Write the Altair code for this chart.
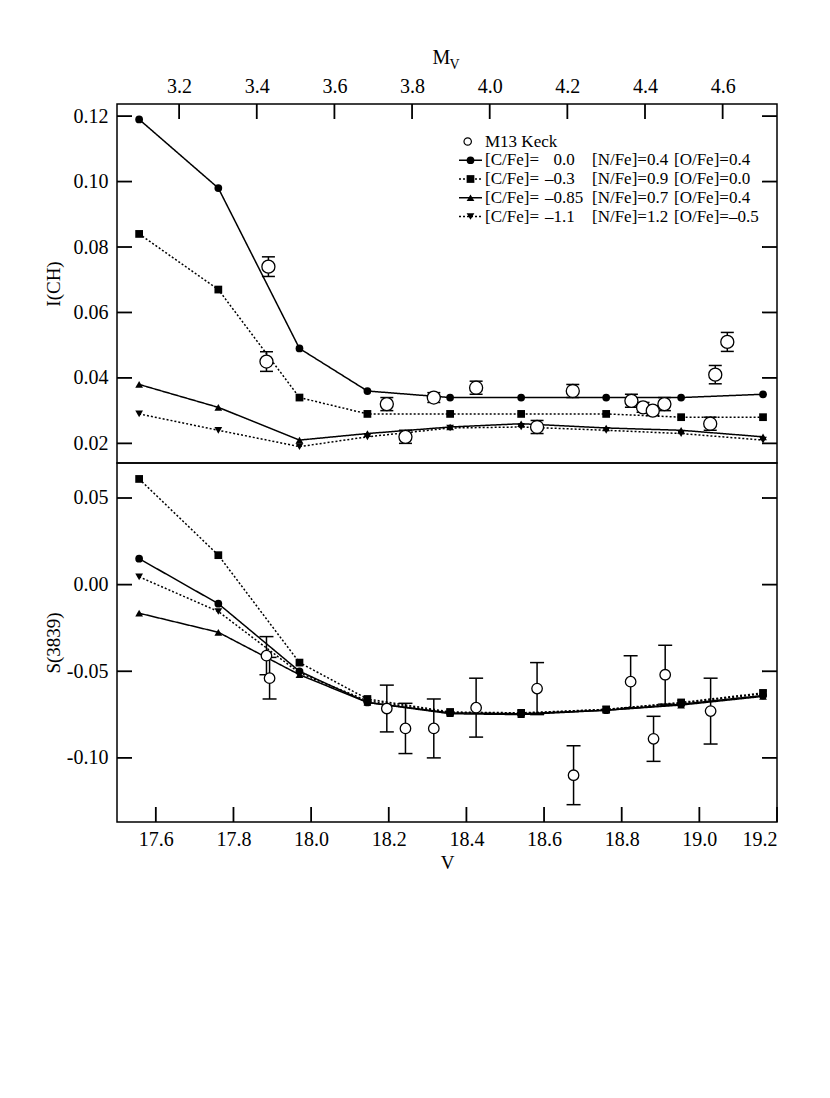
import altair as alt
import pandas as pd

FONT = "Liberation Serif"
W, H = 660, 359
TL = 15  # inward tick length (px)

# ---------------- data ----------------
series = ["c00", "c03", "c085", "c11"]
shapes = ["circle", "square", "triangle-up", "triangle-down"]
dashes = [[1, 0], [2, 2], [1, 0], [2, 2]]

model_V = [17.557, 17.761, 17.970, 18.145, 18.358, 18.541, 18.760, 18.953, 19.164]

ich_c00 = [0.119, 0.098, 0.049, 0.036, 0.034, 0.034, 0.034, 0.034, 0.035]
ich_c03 = [0.084, 0.067, 0.034, 0.029, 0.029, 0.029, 0.029, 0.028, 0.028]
ich_c085 = [0.038, 0.031, 0.021, 0.023, 0.025, 0.026, 0.0247, 0.024, 0.022]
ich_c11 = [0.029, 0.024, 0.019, 0.022, 0.0247, 0.025, 0.024, 0.023, 0.021]

s_c00 = [0.015, -0.011, -0.050, -0.068, -0.074, -0.0745, -0.0725, -0.069, -0.064]
s_c03 = [0.061, 0.017, -0.045, -0.066, -0.0735, -0.074, -0.072, -0.068, -0.0625]
s_c085 = [-0.0165, -0.0275, -0.052, -0.068, -0.0745, -0.075, -0.0725, -0.0695, -0.0645]
s_c11 = [0.0045, -0.0155, -0.051, -0.067, -0.074, -0.0745, -0.072, -0.0685, -0.063]

obs_top_V = [17.885, 17.890, 18.195, 18.243, 18.316, 18.425, 18.582, 18.674,
             18.825, 18.855, 18.880, 18.910, 19.028, 19.041, 19.072]
obs_top_I = [0.045, 0.074, 0.032, 0.022, 0.034, 0.037, 0.025, 0.036,
             0.033, 0.031, 0.030, 0.032, 0.026, 0.041, 0.051]
obs_top_err = [0.003, 0.003, 0.002, 0.002, 0.0015, 0.002, 0.002, 0.002,
               0.002, 0.0015, 0.0015, 0.002, 0.002, 0.0028, 0.0029]

obs_bot_V = [17.885, 17.893, 18.195, 18.243, 18.316, 18.425, 18.582, 18.676,
             18.823, 18.882, 18.912, 19.029]
obs_bot_S = [-0.041, -0.054, -0.0715, -0.083, -0.083, -0.071, -0.060, -0.110,
             -0.056, -0.089, -0.052, -0.073]
obs_bot_err = [0.011, 0.012, 0.0135, 0.0145, 0.017, 0.017, 0.015, 0.017,
               0.015, 0.013, 0.017, 0.019]

DIST_MOD = 14.46
mv_ticks = [3.2, 3.4, 3.6, 3.8, 4.0, 4.2, 4.4, 4.6]
v_ticks = [17.6, 17.8, 18.0, 18.2, 18.4, 18.6, 18.8, 19.0, 19.2]
ich_ticks = [0.02, 0.04, 0.06, 0.08, 0.10, 0.12]
s_ticks = [-0.10, -0.05, 0.00, 0.05]

leg_val_int = ["0", "\u20130", "\u20130", "\u20131"]
leg_val_frac = [".0", ".3", ".85", ".1"]
leg_n = ["[N/Fe]=0.4", "[N/Fe]=0.9", "[N/Fe]=0.7", "[N/Fe]=1.2"]
leg_o = ["[O/Fe]=0.4", "[O/Fe]=0.0", "[O/Fe]=0.4", "[O/Fe]=\u20130.5"]

XDOM = [17.5, 19.2]
YDOM_TOP = [0.014, 0.1237]
YDOM_BOT = [-0.137, 0.0702]

# ---------------- tables ----------------
def models_long(vals):
    rows = []
    for s, arr in zip(series, vals):
        for v, y in zip(model_V, arr):
            rows.append({"V": v, "y": y, "series": s})
    return pd.DataFrame(rows)

top_models = models_long([ich_c00, ich_c03, ich_c085, ich_c11])
bot_models = models_long([s_c00, s_c03, s_c085, s_c11])

top_obs = pd.DataFrame({"V": obs_top_V, "y": obs_top_I, "e": obs_top_err})
top_obs["lo"] = top_obs["y"] - top_obs["e"]
top_obs["hi"] = top_obs["y"] + top_obs["e"]
bot_obs = pd.DataFrame({"V": obs_bot_V, "y": obs_bot_S, "e": obs_bot_err})
bot_obs["lo"] = bot_obs["y"] - bot_obs["e"]
bot_obs["hi"] = bot_obs["y"] + bot_obs["e"]

legend_df = pd.DataFrame({
    "series": series, "row": [1, 2, 3, 4],
    "vint": leg_val_int, "vfrac": leg_val_frac, "n": leg_n, "o": leg_o,
})

shape_scale = alt.Scale(domain=series, range=shapes)
dash_scale = alt.Scale(domain=series, range=dashes)

# ---------------- encodings ----------------
def x_top(field="V"):
    return alt.X(f"{field}:Q", scale=alt.Scale(domain=XDOM, nice=False, zero=False),
                 axis=alt.Axis(orient="top", values=[m + DIST_MOD for m in mv_ticks],
                               labelExpr=f"format(datum.value - {DIST_MOD}, '.1f')",
                               title=None, grid=False, ticks=False, domain=False,
                               labelPadding=8))

def x_bot(field="V"):
    return alt.X(f"{field}:Q", scale=alt.Scale(domain=XDOM, nice=False, zero=False),
                 axis=alt.Axis(orient="bottom", values=v_ticks, format=".1f",
                               title="V", grid=False, ticks=False, domain=False,
                               labelPadding=7, titlePadding=4))

def y_top(field="y"):
    return alt.Y(f"{field}:Q", title="I(CH)",
                 scale=alt.Scale(domain=YDOM_TOP, nice=False, zero=False),
                 axis=alt.Axis(values=ich_ticks, format=".2f", grid=False, ticks=False,
                               domain=False, labelPadding=9, minExtent=50, maxExtent=50,
                               titlePadding=4))

def y_bot(field="y"):
    return alt.Y(f"{field}:Q", title="S(3839)",
                 scale=alt.Scale(domain=YDOM_BOT, nice=False, zero=False),
                 axis=alt.Axis(values=s_ticks,
                               labelExpr="replace(format(datum.value, '.2f'), '\u2212', '-')",
                               grid=False, ticks=False, domain=False, labelPadding=9,
                               minExtent=50, maxExtent=50, titlePadding=4))


def panel(models, obs, xf, yf, circ_size, cap_size):
    lines = alt.Chart(models).mark_line(color="black", strokeWidth=1.5).encode(
        x=xf(), y=yf(), detail="series:N",
        strokeDash=alt.StrokeDash("series:N", scale=dash_scale, legend=None))
    pts = alt.Chart(models).mark_point(filled=True, color="black", opacity=1, size=60).encode(
        x=xf(), y=yf(), shape=alt.Shape("series:N", scale=shape_scale, legend=None))
    bars = alt.Chart(obs).mark_rule(color="black", strokeWidth=1.5).encode(
        x=xf(), y=yf("lo"), y2="hi:Q")
    cap_lo = alt.Chart(obs).mark_tick(color="black", thickness=1.5, size=cap_size,
                                      orient="horizontal", opacity=1).encode(x=xf(), y=yf("lo"))
    cap_hi = alt.Chart(obs).mark_tick(color="black", thickness=1.5, size=cap_size,
                                      orient="horizontal", opacity=1).encode(x=xf(), y=yf("hi"))
    circ = alt.Chart(obs).mark_point(shape="circle", filled=True, fill="white", stroke="black",
                                     strokeWidth=1.3, opacity=1, size=circ_size).encode(
        x=xf(), y=yf())
    return [lines, pts, bars, cap_lo, cap_hi, circ]


def inward_ticks(xf, yf, xvals, yvals, ydom, x_at_top):
    """Inward-pointing tick marks drawn through the panel's own scales."""
    dx = (XDOM[1] - XDOM[0]) * TL / W
    dy = (ydom[1] - ydom[0]) * TL / H
    if x_at_top:
        y0, y1 = ydom[1], ydom[1] - dy
    else:
        y0, y1 = ydom[0], ydom[0] + dy
    xdf = pd.DataFrame({"t": xvals, "a": y0, "b": y1})
    ydf = pd.DataFrame({"t": yvals, "l0": XDOM[0], "l1": XDOM[0] + dx,
                        "r0": XDOM[1] - dx, "r1": XDOM[1]})
    xt = alt.Chart(xdf).mark_rule(color="black", strokeWidth=1.8).encode(
        x=xf("t"), y=yf("a"), y2="b:Q")
    yl = alt.Chart(ydf).mark_rule(color="black", strokeWidth=1.8).encode(
        y=yf("t"), x=xf("l0"), x2="l1:Q")
    yr = alt.Chart(ydf).mark_rule(color="black", strokeWidth=1.8).encode(
        y=yf("t"), x=xf("r0"), x2="r1:Q")
    return [xt, yl, yr]


# ---------------- legend (top panel) ----------------
LX0, LY0, LDY = 342, 37.5, 18.75
leg_base = alt.Chart(legend_df).transform_calculate(ly=f"{LY0} + {LDY} * datum.row")
leg_solid = leg_base.transform_filter("datum.row % 2 == 1").mark_rule(
    color="black", strokeWidth=1.5).encode(
    x=alt.value(LX0), x2=alt.value(LX0 + 23), y=alt.Y("ly:Q", scale=None))
leg_dot = leg_base.transform_filter("datum.row % 2 == 0").mark_rule(
    color="black", strokeWidth=1.5, strokeDash=[2, 2]).encode(
    x=alt.value(LX0), x2=alt.value(LX0 + 23), y=alt.Y("ly:Q", scale=None))
leg_sym = leg_base.mark_point(filled=True, color="black", opacity=1, size=60).encode(
    x=alt.value(LX0 + 11.5), y=alt.Y("ly:Q", scale=None),
    shape=alt.Shape("series:N", scale=shape_scale, legend=None))
txt_kw = dict(font=FONT, fontSize=17, color="black", baseline="middle")
leg_c = leg_base.mark_text(align="left", text="[C/Fe]=", **txt_kw).encode(
    x=alt.value(368), y=alt.Y("ly:Q", scale=None))
leg_int = leg_base.mark_text(align="right", **txt_kw).encode(
    x=alt.value(445), y=alt.Y("ly:Q", scale=None), text="vint:N")
leg_frac = leg_base.mark_text(align="left", **txt_kw).encode(
    x=alt.value(445), y=alt.Y("ly:Q", scale=None), text="vfrac:N")
leg_n_t = leg_base.mark_text(align="left", **txt_kw).encode(
    x=alt.value(475), y=alt.Y("ly:Q", scale=None), text="n:N")
leg_o_t = leg_base.mark_text(align="left", **txt_kw).encode(
    x=alt.value(557), y=alt.Y("ly:Q", scale=None), text="o:N")

keck_df = pd.DataFrame({"label": ["M13 Keck"]})
keck_sym = alt.Chart(keck_df).mark_point(shape="circle", filled=True, fill="white",
                                        stroke="black", strokeWidth=1.2, opacity=1,
                                        size=55).encode(
    x=alt.value(350.7), y=alt.value(LY0))
keck_txt = alt.Chart(keck_df).mark_text(align="left", **txt_kw).encode(
    x=alt.value(368), y=alt.value(LY0), text="label:N")

mv_df = pd.DataFrame({"m": ["M"], "s": ["V"]})
mv_m = alt.Chart(mv_df).mark_text(font=FONT, fontSize=20, color="black", align="left",
                                  baseline="alphabetic").encode(
    x=alt.value(315.5), y=alt.value(-40), text="m:N")
mv_s = alt.Chart(mv_df).mark_text(font=FONT, fontSize=14, color="black", align="left",
                                  baseline="alphabetic").encode(
    x=alt.value(332.5), y=alt.value(-35), text="s:N")

top = alt.layer(
    *inward_ticks(x_top, y_top, [m + DIST_MOD for m in mv_ticks], ich_ticks, YDOM_TOP, True),
    *panel(top_models, top_obs, x_top, y_top, 170, 13),
    leg_solid, leg_dot, leg_sym, leg_c, leg_int, leg_frac, leg_n_t, leg_o_t,
    keck_sym, keck_txt, mv_m, mv_s,
).properties(width=W, height=H)

bottom = alt.layer(
    *inward_ticks(x_bot, y_bot, v_ticks, s_ticks, YDOM_BOT, False),
    *panel(bot_models, bot_obs, x_bot, y_bot, 110, 14),
).properties(width=W, height=H)

chart = alt.vconcat(top, bottom, spacing=0, bounds="flush").resolve_scale(
    x="independent").properties(
    padding={"left": 35, "top": 39, "right": 5, "bottom": 5}, background="white"
).configure_view(stroke="black", strokeWidth=1.5).configure_axis(
    labelFont=FONT, labelFontSize=20, labelColor="black",
    titleFont=FONT, titleFontSize=19, titleFontWeight="normal", titleColor="black",
)

chart.save("out.html", embed_options={"renderer": "svg", "actions": False})
